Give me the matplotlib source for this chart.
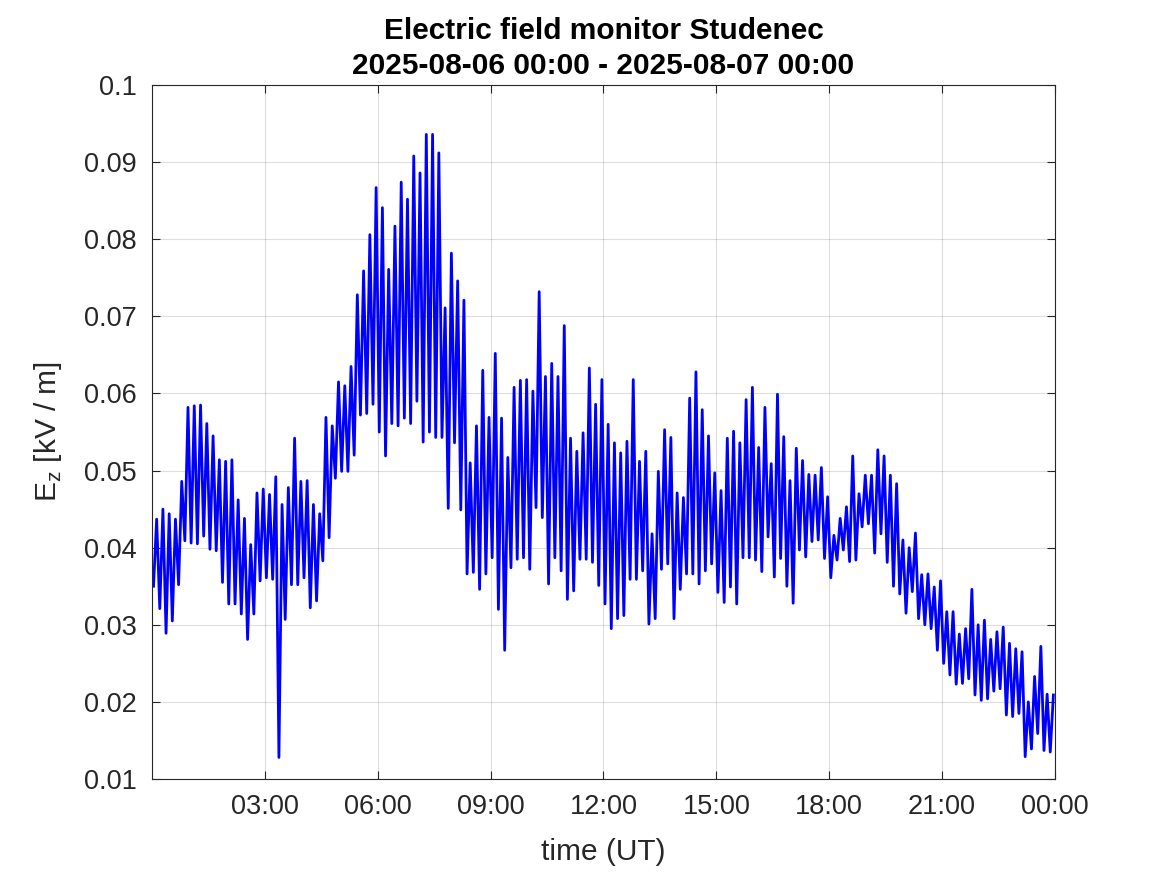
import numpy as np
import matplotlib
matplotlib.use("Agg")
import matplotlib.pyplot as plt
import matplotlib.dates as mdates
from datetime import datetime, timedelta

# ===== DATOS (min / max por intervalo de 10 min) =====
start = datetime(2025, 8, 6, 0, 0)
end = datetime(2025, 8, 7, 0, 0)
bin_min = 10

ez_hi = [
    0.0437, 0.0450, 0.0444, 0.0437, 0.0486, 0.0582, 0.0584, 0.0585, 0.0561, 0.0545,
    0.0514, 0.0512, 0.0514, 0.0462, 0.0438, 0.0404, 0.0471, 0.0476, 0.0469, 0.0492,
    0.0456, 0.0478, 0.0542, 0.0486, 0.0487, 0.0456, 0.0444, 0.0569, 0.0558, 0.0615,
    0.0610, 0.0635, 0.0728, 0.0759, 0.0806, 0.0867, 0.0841, 0.0761, 0.0817, 0.0874,
    0.0852, 0.0908, 0.0886, 0.0936, 0.0936, 0.0912, 0.0711, 0.0782, 0.0746, 0.0721,
    0.0510, 0.0558, 0.0630, 0.0569, 0.0652, 0.0568, 0.0517, 0.0608, 0.0617, 0.0618,
    0.0603, 0.0732, 0.0622, 0.0639, 0.0622, 0.0688, 0.0542, 0.0525, 0.0549, 0.0633,
    0.0586, 0.0618, 0.0560, 0.0536, 0.0523, 0.0538, 0.0618, 0.0512, 0.0525, 0.0418,
    0.0499, 0.0553, 0.0543, 0.0471, 0.0465, 0.0594, 0.0628, 0.0579, 0.0545, 0.0497,
    0.0474, 0.0542, 0.0551, 0.0536, 0.0592, 0.0608, 0.0530, 0.0582, 0.0509, 0.0599,
    0.0544, 0.0487, 0.0529, 0.0513, 0.0495, 0.0494, 0.0504, 0.0466, 0.0416, 0.0438,
    0.0453, 0.0519, 0.0470, 0.0494, 0.0494, 0.0527, 0.0519, 0.0494, 0.0483, 0.0410,
    0.0400, 0.0419, 0.0365, 0.0366, 0.0349, 0.0357, 0.0317, 0.0317, 0.0288, 0.0295,
    0.0346, 0.0300, 0.0306, 0.0281, 0.0291, 0.0297, 0.0276, 0.0269, 0.0265, 0.0200,
    0.0233, 0.0272, 0.0210, 0.0209,
]

ez_lo = [
    0.0350, 0.0321, 0.0289, 0.0305, 0.0352, 0.0409, 0.0406, 0.0405, 0.0415, 0.0398,
    0.0396, 0.0355, 0.0327, 0.0327, 0.0314, 0.0281, 0.0314, 0.0357, 0.0361, 0.0359,
    0.0128, 0.0307, 0.0352, 0.0352, 0.0361, 0.0322, 0.0331, 0.0383, 0.0413, 0.0490,
    0.0499, 0.0499, 0.0520, 0.0572, 0.0574, 0.0586, 0.0550, 0.0519, 0.0561, 0.0558,
    0.0568, 0.0561, 0.0590, 0.0537, 0.0550, 0.0543, 0.0543, 0.0451, 0.0536, 0.0449,
    0.0366, 0.0368, 0.0346, 0.0366, 0.0387, 0.0320, 0.0267, 0.0374, 0.0385, 0.0387,
    0.0372, 0.0452, 0.0439, 0.0353, 0.0387, 0.0370, 0.0333, 0.0344, 0.0385, 0.0385,
    0.0381, 0.0351, 0.0327, 0.0295, 0.0308, 0.0312, 0.0359, 0.0359, 0.0370, 0.0301,
    0.0308, 0.0372, 0.0379, 0.0308, 0.0346, 0.0366, 0.0366, 0.0353, 0.0370, 0.0379,
    0.0342, 0.0329, 0.0349, 0.0327, 0.0387, 0.0387, 0.0384, 0.0369, 0.0414, 0.0362,
    0.0386, 0.0350, 0.0328, 0.0397, 0.0388, 0.0408, 0.0410, 0.0386, 0.0361, 0.0384,
    0.0397, 0.0382, 0.0384, 0.0427, 0.0431, 0.0393, 0.0418, 0.0381, 0.0350, 0.0340,
    0.0315, 0.0343, 0.0308, 0.0300, 0.0295, 0.0267, 0.0250, 0.0235, 0.0223, 0.0224,
    0.0230, 0.0209, 0.0202, 0.0204, 0.0214, 0.0217, 0.0183, 0.0181, 0.0185, 0.0129,
    0.0139, 0.0159, 0.0137, 0.0135,
]

# ===== SERIE (alternando minimo y maximo dentro de cada intervalo) =====
t = []
ez = []
for k in range(len(ez_hi)):
    t0 = start + timedelta(minutes=bin_min * k)
    t.append(t0 + timedelta(minutes=2.5))
    ez.append(ez_lo[k])
    t.append(t0 + timedelta(minutes=7.5))
    ez.append(ez_hi[k])

# ===== FIGURA =====
plt.rcParams['font.family'] = ['Liberation Sans', 'DejaVu Sans']
plt.rcParams['mathtext.fontset'] = 'custom'
plt.rcParams['mathtext.rm'] = 'Liberation Sans'

fig = plt.figure(figsize=(11.67, 8.75), dpi=100)
ax = fig.add_axes([0.1302, 0.1097, 0.7738, 0.7931])

ax.plot(t, ez, color=(0, 0, 1), lw=2.0)

ax.set_xlim(start, end)
ax.set_ylim(0.01, 0.1)

xt = [start + timedelta(hours=h) for h in range(3, 25, 3)]
ax.set_xticks(xt)
ax.xaxis.set_major_formatter(mdates.DateFormatter('%H:%M'))
yt = np.arange(1, 11) / 100
ax.set_yticks(yt)
ax.set_yticklabels([f"{v:g}" for v in yt])

ax.grid(True, color='#262626', alpha=0.15, lw=0.8)
ax.set_axisbelow(True)
ax.tick_params(direction='in', length=6, width=0.8, labelsize=19.5,
               colors='#262626', top=True, right=True, pad=11)
for s in ax.spines.values():
    s.set_color('#262626')
    s.set_linewidth(0.8)

ax.set_xlabel('time (UT)', fontsize=21.5, color='#262626', labelpad=13)
ax.set_ylabel(r'E$_\mathregular{z}$ [kV / m]', fontsize=21.5, color='#262626', labelpad=14)
ax.set_title('Electric field monitor Studenec\n2025-08-06 00:00 - 2025-08-07 00:00',
             fontsize=21.5, fontweight='bold', linespacing=1.3, pad=8)

fig.savefig('out.png', dpi=100)
